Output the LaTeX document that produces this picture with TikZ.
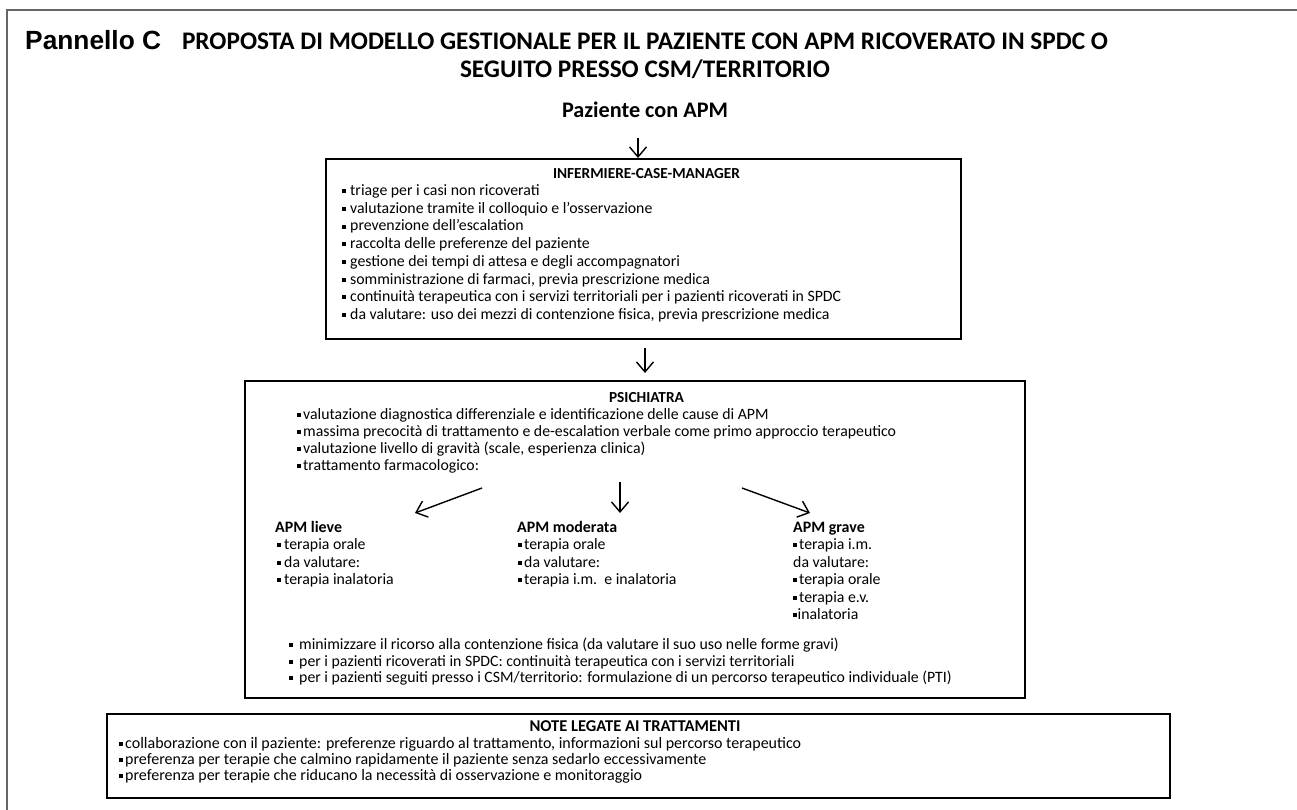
\documentclass[tikz,border=0pt]{standalone}
\usepackage{fontspec}
\setmainfont{Carlito}
\newfontfamily\arialfont{Liberation Sans}
\usetikzlibrary{arrows.meta}
\newlength\fitlen
\newcommand\fitsize[4]{%
  \settowidth\fitlen{\fontsize{10pt}{12pt}\selectfont#3#4}%
  \pgfmathsetmacro#1{10*#2/\fitlen}}
\newcommand\fs[1]{\fontsize{#1pt}{#1pt}\selectfont}
\newcommand\bul[1]{\llap{\rule[\dimexpr0.27em-2pt\relax]{4pt}{4pt}\hspace*{#1pt}}}
\AtBeginDocument{%
\fitsize{\tsz}{926}{\bfseries}{PROPOSTA DI MODELLO GESTIONALE PER IL PAZIENTE CON APM RICOVERATO IN SPDC O}%
\fitsize{\psz}{136}{\arialfont\bfseries}{Pannello C}%
\fitsize{\zsz}{166}{\bfseries}{Paziente con APM}%
\fitsize{\hsz}{187}{\bfseries}{INFERMIERE-CASE-MANAGER}%
\fitsize{\isz}{491}{}{continuità terapeutica con i servizi territoriali per i pazienti ricoverati in SPDC}%
\fitsize{\asz}{100}{\bfseries}{APM moderata}%
\fitsize{\nsz}{676}{}{collaborazione con il paziente: preferenze riguardo al trattamento, informazioni sul percorso terapeutico}%
\fitsize{\nhsz}{211}{\bfseries}{NOTE LEGATE AI TRATTAMENTI}%
}
\begin{document}
\begin{tikzpicture}[x=1pt,y=-1pt,
  txt/.style={inner sep=0pt, text height=0.7em, text depth=0.2em},
  itm/.style={txt, anchor=west, font=\fs{\isz}},
  hdr/.style={txt, font=\bfseries\fs{\hsz}},
  apm/.style={txt, anchor=west, font=\bfseries\fs{\asz}},
  box/.style={draw, line width=2pt, inner sep=0pt},
  arr/.style={line width=1.4pt, -{Straight Barb[length=10pt,width=17pt]}},
  frame/.style={draw=black!60, line width=2pt}]
\useasboundingbox (0,0) rectangle (1297,810);
% outer frame
\draw[frame] (7,810) -- (7,10) -- (1297,10);
% titles
\node[txt, anchor=west, font=\arialfont\bfseries\fs{\psz}] (pann) at (25,47) {Pannello C};
\node[txt, font=\bfseries\fs{\tsz}] (tit1) at (645,47) {PROPOSTA DI MODELLO GESTIONALE PER IL PAZIENTE CON APM RICOVERATO IN SPDC O};
\node[txt, font=\bfseries\fs{\tsz}] (tit2) at (645,75) {SEGUITO PRESSO CSM/TERRITORIO};
\node[txt, font=\bfseries\fs{\zsz}] (paz) at (645,115) {Paziente con APM};
% box 1
\node[box, minimum width=635pt, minimum height=180pt] (box1) at (643.5,249) {};
\draw[arr] ([xshift=-7pt,yshift=-18pt]paz.south) -- ([xshift=-5.5pt]box1.north);
\node[hdr] (h1) at (646.5,176) {INFERMIERE-CASE-MANAGER};
\foreach \t [count=\i] in {{triage per i casi non ricoverati},
  {valutazione tramite il colloquio e l’osservazione},
  {prevenzione dell’escalation},
  {raccolta delle preferenze del paziente},
  {gestione dei tempi di attesa e degli accompagnatori},
  {somministrazione di farmaci, previa prescrizione medica},
  {continuità terapeutica con i servizi territoriali per i pazienti ricoverati in SPDC},
  {da valutare: uso dei mezzi di contenzione fisica, previa prescrizione medica}}
  \node[itm] (b1i\i) at (350,{193+17.7*(\i-1)}) {\bul{4}\t};
% box 2
\node[box, minimum width=780pt, minimum height=317pt] (box2) at (635,539.5) {};
\draw[arr] ([xshift=1.5pt,yshift=-8pt]box1.south) -- ([xshift=10pt,yshift=7pt]box2.north);
\node[hdr] (h2) at (646.5,400) {PSICHIATRA};
\foreach \t [count=\i] in {{valutazione diagnostica differenziale e identificazione delle cause di APM},
  {massima precocità di trattamento e de-escalation verbale come primo approccio terapeutico},
  {valutazione livello di gravità (scale, esperienza clinica)},
  {trattamento farmacologico:}}
  \node[itm] (b2i\i) at (303,{417+17*(\i-1)}) {\bul{2.5}\t};
% branches
\coordinate (brl) at (482,488); \coordinate (bel) at (415,513);
\coordinate (brm) at (620,482); \coordinate (bem) at (620,513);
\coordinate (brr) at (742,488); \coordinate (ber) at (810,513);
\draw[arr] (brl) -- (bel);
\draw[arr] (brm) -- (bem);
\draw[arr] (brr) -- (ber);
\node[apm] (lieve) at (275,530) {APM lieve};
\node[apm] (mod) at (517,530) {APM moderata};
\node[apm] (grave) at (793,530) {APM grave};
\node[itm] (l1) at (284,547) {\bul{3}terapia orale};
\node[itm] (l2) at (284,564.5) {\bul{3}da valutare:};
\node[itm] (l3) at (284,582) {\bul{3}terapia inalatoria};
\node[itm] (m1) at (524,547) {\bul{2.5}terapia orale};
\node[itm] (m2) at (524,564.5) {\bul{2.5}da valutare:};
\node[itm] (m3) at (524,582) {\bul{2.5}terapia i.m.\ \ e inalatoria};
\node[itm] (g1) at (799,547) {\bul{2}terapia i.m.};
\node[itm] (g2) at (793,564.5) {da valutare:};
\node[itm] (g3) at (799,582) {\bul{2}terapia orale};
\node[itm] (g4) at (799,599.5) {\bul{2}terapia e.v.};
\node[itm] (g5) at (797.5,617) {\bul{0.5}inalatoria};
\foreach \t [count=\i] in {{minimizzare il ricorso alla contenzione fisica (da valutare il suo uso nelle forme gravi)},
  {per i pazienti ricoverati in SPDC: continuità terapeutica con i servizi territoriali},
  {per i pazienti seguiti presso i CSM/territorio: formulazione di un percorso terapeutico individuale (PTI)}}
  \node[itm] (b2f\i) at (299,{647+16.5*(\i-1)}) {\bul{6}\t};
% box 3
\node[box, minimum width=1063pt, minimum height=84pt] (box3) at (638.5,756) {};
\node[txt, font=\bfseries\fs{\nhsz}] (h3) at (635,729) {NOTE LEGATE AI TRATTAMENTI};
\foreach \t [count=\i] in {{collaborazione con il paziente: preferenze riguardo al trattamento, informazioni sul percorso terapeutico},
  {preferenza per terapie che calmino rapidamente il paziente senza sedarlo eccessivamente},
  {preferenza per terapie che riducano la necessità di osservazione e monitoraggio}}
  \node[txt, anchor=west, font=\fs{\nsz}] (n\i) at (125,{746+16*(\i-1)}) {\bul{2.5}\t};
\end{tikzpicture}
\end{document}
